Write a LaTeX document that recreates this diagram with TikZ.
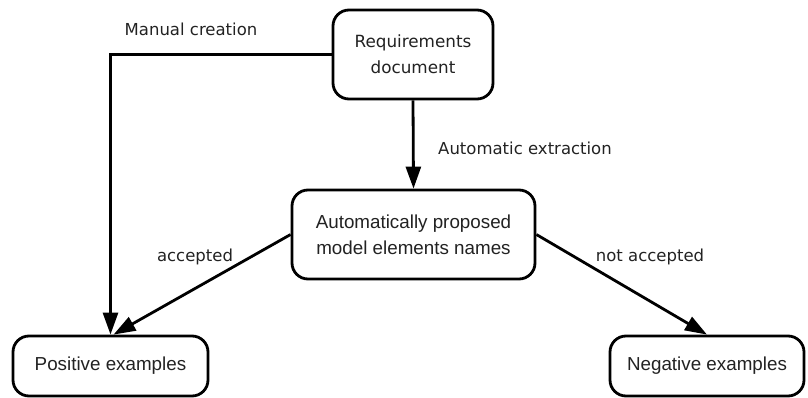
\documentclass[tikz,border=0pt]{standalone}
\usepackage{fontspec}
\setmainfont{DejaVu Sans}
\newfontfamily\boxfont{Liberation Sans}
\usetikzlibrary{arrows.meta}
\definecolor{txt}{HTML}{222222}
\begin{document}
\begin{tikzpicture}[x=1pt,y=-1pt,
  box/.style={draw=black, line width=2.8pt, rounded corners=16pt, fill=white, align=center, inner sep=0pt, text=txt},
  lbl/.style={text=txt, inner sep=0pt, font=\fontsize{16.5}{20}\selectfont},
  conn/.style={line width=2.8pt, -{Triangle[length=22pt,width=15pt]}}
]
\useasboundingbox (0,0) rectangle (808,398);
\node[box, minimum width=160pt, minimum height=89pt, font=\fontsize{16.8}{26}\selectfont] (req) at (413,54.5) {Requirements\\document};
\node[box, minimum width=243pt, minimum height=89pt, font=\boxfont\fontsize{18.8}{25.7}\selectfont] (auto) at (413.5,234.5) {Automatically proposed\\model elements names};
\node[box, minimum width=195pt, minimum height=60pt, font=\boxfont\fontsize{18.8}{24}\selectfont] (pos) at (110.5,366) {Positive examples};
\node[box, minimum width=194pt, minimum height=60pt, font=\boxfont\fontsize{18.8}{24}\selectfont] (neg) at (707,366) {Negative examples};
\coordinate (corner) at (pos.north |- req.west);
\draw[conn] (req.south) -- (auto.north);
\draw[conn] (req.west) -- (corner) -- (pos.north);
\draw[conn] (auto.west) -- ([xshift=3pt]pos.north);
\draw[conn] (auto.east) -- (neg.north);
\node[lbl] (lman) at (191,29) {Manual creation};
\node[lbl] (lauto) at (525,148) {Automatic extraction};
\node[lbl] (lacc) at (195,257) {accepted};
\node[lbl] (lnot) at (650,257) {not accepted};
\end{tikzpicture}
\end{document}
